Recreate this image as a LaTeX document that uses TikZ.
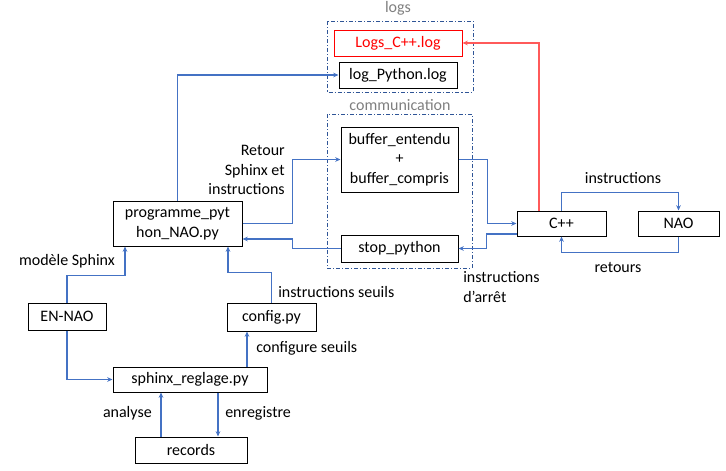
\documentclass[tikz,border=0pt]{standalone}
\usepackage{fontspec}
\setmainfont{Carlito}
\usetikzlibrary{arrows.meta,calc}

\definecolor{flowblue}{RGB}{68,114,196}
\definecolor{groupblue}{RGB}{47,85,151}
\definecolor{labelgrey}{RGB}{127,127,127}
\definecolor{logred}{RGB}{255,90,90}

\tikzset{
	box/.style={draw, line width=0.75pt, inner sep=0pt, align=center,
		font=\fontsize{12}{14.6}\selectfont},
	flow/.style={draw=flowblue, line width=0.8pt, -{Stealth[length=4pt,width=3.5pt]}},
	group/.style={draw=groupblue, line width=0.6pt, dash pattern=on 3pt off 1.5pt on 0.8pt off 1.5pt},
	tag/.style={font=\fontsize{12}{14.6}\selectfont, inner sep=0pt},
}

\begin{document}
\begin{tikzpicture}[x=0.75pt, y=-0.75pt]
\useasboundingbox (0,0) rectangle (726,471);

% groups
\draw[group] (327,21) rectangle (473,92);
\draw[group] (327,114) rectangle (472,268);
\node[tag, text=labelgrey] (logs) at (398,8) {logs};
\node[tag, text=labelgrey] (comm) at (400,105) {communication};

% boxes
\node[box, draw=red, text=red, minimum width=128*0.75pt, minimum height=26*0.75pt] (logc) at (398,43) {Logs\_C++.log};
\node[box, minimum width=118*0.75pt, minimum height=26*0.75pt] (logpy) at (398,75) {log\_Python.log};
\node[box, minimum width=117*0.75pt, minimum height=65*0.75pt] (buffer) at (399.5,159.5) {buffer\_entendu\\+\\buffer\_compris};
\node[box, minimum width=117*0.75pt, minimum height=27*0.75pt] (stop) at (399.5,248.5) {stop\_python};
\node[box, minimum width=89*0.75pt, minimum height=25*0.75pt] (cpp) at (561.5,223.5) {C++};
\node[box, minimum width=81*0.75pt, minimum height=25*0.75pt] (nao) at (678.5,223.5) {NAO};
\node[box, minimum width=129*0.75pt, minimum height=45*0.75pt] (prog) at (177.5,223.5) {programme\_pyt\\hon\_NAO.py};
\node[box, minimum width=78*0.75pt, minimum height=27*0.75pt] (ennao) at (67,316.5) {EN-NAO};
\node[box, minimum width=89*0.75pt, minimum height=28*0.75pt] (config) at (271.5,317) {config.py};
\node[box, minimum width=154*0.75pt, minimum height=25*0.75pt] (sphinx) at (190,379.5) {sphinx\_reglage.py};
\node[box, minimum width=112*0.75pt, minimum height=26*0.75pt] (records) at (191,450) {records};

% connectors
\draw[flow] (prog.north) |- (logpy.west);
\draw[flow] (prog.east) -- ++(50,0) |- (buffer.west);
\draw[flow] (stop.west) -| ($(prog.east)+(50,15.5)$) -- ($(prog.east)+(0,15.5)$);
\draw[flow] (buffer.east) -- ++(29,0) |- (cpp.west);
\draw[flow] ($(cpp.west)+(0,10.5)$) -- ++(-30,0) |- (stop.east);
\draw[draw=logred, line width=0.8pt, -{Stealth[length=4pt,width=3.5pt]}] ($(cpp.north)+(-22.5,0)$) |- (logc.east);
\draw[flow] (cpp.north) -- ++(0,-18) -| (nao.north);
\draw[flow] (nao.south) -- ++(0,16) -| (cpp.south);
\draw[flow] (ennao.north) -- ++(0,-27) -| ($(prog.south)+(-52.5,0)$);
\draw[flow] (config.north) -- ++(0,-30) -| ($(prog.south)+(50.5,0)$);
\draw[flow] (ennao.south) |- (sphinx.west);
\coordinate (cfgin) at ($(sphinx.north)+(57,0)$);
\draw[flow] (cfgin) -- (cfgin |- config.south);
\coordinate (recup) at ($(records.north)+(-30,0)$);
\draw[flow] (recup) -- (recup |- sphinx.south);
\coordinate (recdown) at ($(sphinx.south)+(28,0)$);
\draw[flow] (recdown) -- (recdown |- records.north);

% labels
\node[tag, align=right, anchor=east] (lretour) at (285,170) {Retour\\Sphinx et\\instructions};
\node[tag] (lmodele) at (67,261) {modèle Sphinx};
\node[tag, anchor=west] (lseuils) at (278,292) {instructions seuils};
\node[tag, anchor=west] (lconf) at (256,348) {configure seuils};
\node[tag, anchor=east] (lanalyse) at (152,413) {analyse};
\node[tag, anchor=west] (lenreg) at (225,413) {enregistre};
\node[tag] (linstr) at (623,178) {instructions};
\node[tag] (lretours) at (618,267) {retours};
\node[tag, align=left, anchor=west] (larret) at (463,287) {instructions\\d’arrêt};
\end{tikzpicture}
\end{document}
